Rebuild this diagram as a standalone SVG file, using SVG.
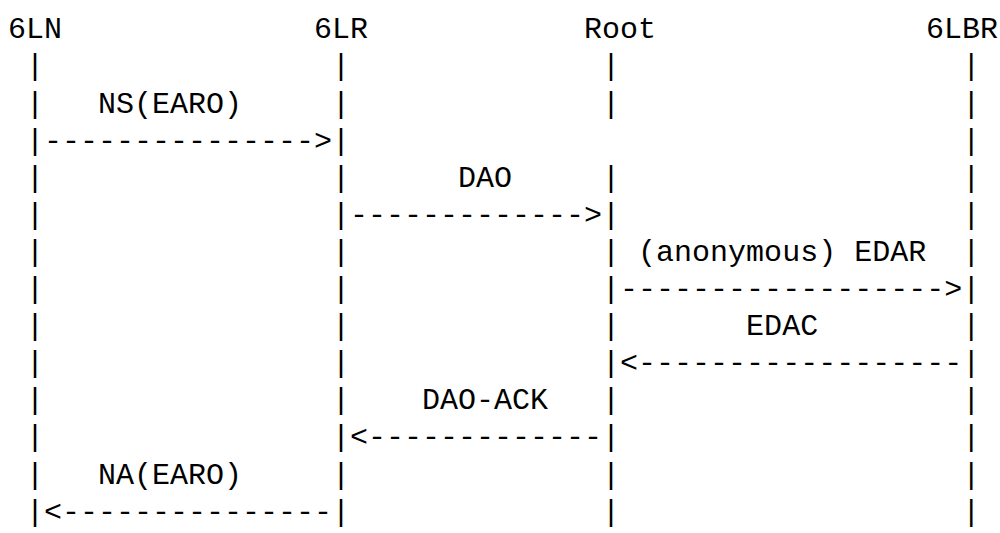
<svg xmlns="http://www.w3.org/2000/svg" width="1000" height="533" viewBox="0 0 1000 533">
<style>
text{font-family:"Liberation Mono","DejaVu Sans Mono",monospace;font-size:30px;fill:#000;white-space:pre}
</style>
<rect width="1000" height="533" fill="#fff"/>
<g id="art" xml:space="preserve">
<g id="nodes">
<text id="n-6LN" x="8" y="38.3">6LN</text>
<text id="n-6LR" x="314" y="38.3">6LR</text>
<text id="n-Root" x="584" y="38.3">Root</text>
<text id="n-6LBR" x="926" y="38.3">6LBR</text>
</g>
<g id="connectors">
<text x="8" y="75.4"> |                |              |                   |</text>
<text x="8" y="112.5"> |   NS(EARO)     |              |                   |</text>
<text x="8" y="149.6"> |---------------&gt;|                                  |</text>
<text x="8" y="186.7"> |                |      DAO     |                   |</text>
<text x="8" y="223.8"> |                |-------------&gt;|                   |</text>
<text x="8" y="260.9"> |                |              | (anonymous) EDAR  |</text>
<text x="8" y="298"> |                |              |------------------&gt;|</text>
<text x="8" y="335.1"> |                |              |       EDAC        |</text>
<text x="8" y="372.2"> |                |              |&lt;------------------|</text>
<text x="8" y="409.3"> |                |    DAO-ACK   |                   |</text>
<text x="8" y="446.4"> |                |&lt;-------------|                   |</text>
<text x="8" y="483.5"> |   NA(EARO)     |              |                   |</text>
<text x="8" y="520.6"> |&lt;---------------|              |                   |</text>
</g>
</g>
</svg>
